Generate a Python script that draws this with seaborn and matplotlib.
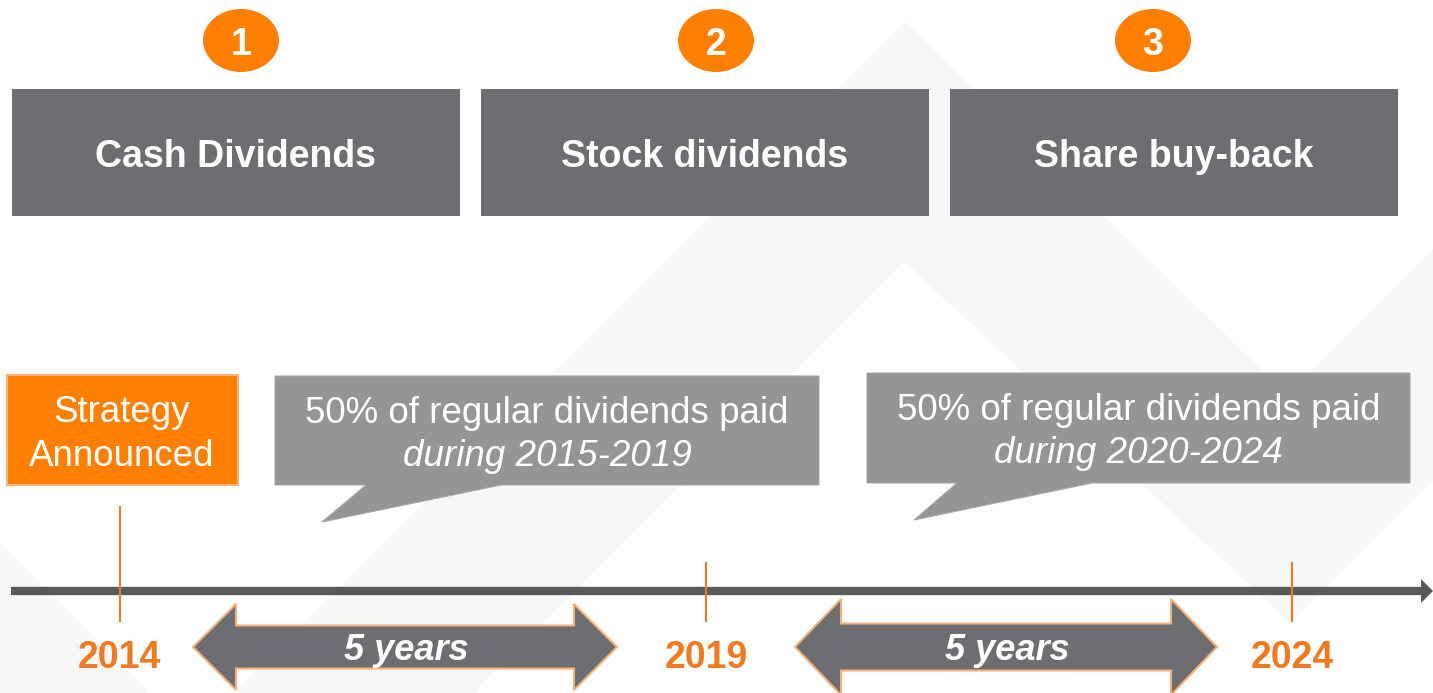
import matplotlib
matplotlib.use("Agg")
import matplotlib.pyplot as plt
from matplotlib.patches import Polygon, Rectangle, Ellipse
import pandas as pd
import seaborn as sns

# content of the diagram
phase_numbers = ["1", "2", "3"]
phases = ["Cash Dividends", "Stock dividends", "Share buy-back"]
years = [2014, 2019, 2024]
announce_label = ["Strategy", "Announced"]
callout_main = ["50% of regular dividends paid", "50% of regular dividends paid"]
callout_period = ["during 2015-2019", "during 2020-2024"]
span_label = "5 years"

ORANGE = "#ff8000"
ORANGE_TXT = "#f07a22"
DARK = "#6d6e71"
CALLOUT = "#959595"
LINE = "#595959"
BAND = "#f7f7f7"

sns.set_theme(style="white")
plt.rcParams["font.family"] = ["Liberation Sans", "DejaVu Sans"]

fig = plt.figure(figsize=(14.33, 6.93), dpi=100)
ax = fig.add_axes([0, 0, 1, 1])
ax.set_xlim(0, 1433)
ax.set_ylim(693, 0)
ax.axis("off")


def year_x(yr):
    # pixel position of a year on the timeline
    return 120 + (yr - 2014) * 117.2


# faint zigzag background
band = [(234, 693), (905, 22), (1287, 395), (1433, 249),
        (1433, 480), (1290, 623), (905, 262), (474, 693)]
ax.add_patch(Polygon(band, closed=True, fc=BAND, ec="none", zorder=0))
ax.add_patch(Polygon([(0, 543), (150, 693), (0, 693)], closed=True,
                     fc=BAND, ec="none", zorder=0))

# top row: numbered circles + grey phase boxes
box_left = [12, 481, 950]
box_w = 448
circle_x = [241, 716, 1153]
for num, name, bx, cx in zip(phase_numbers, phases, box_left, circle_x):
    ax.add_patch(Ellipse((cx, 40.5), 76, 63, fc=ORANGE, ec="none", zorder=2))
    ax.text(cx, 55, num, color="white", fontsize=27, fontweight="bold",
            ha="center", va="baseline", zorder=3)
    ax.add_patch(Rectangle((bx, 89), box_w, 127, fc=DARK, ec="none", zorder=2))
    ax.text(bx + box_w / 2, 167, name, color="white", fontsize=27,
            fontweight="bold", ha="center", va="baseline", zorder=3)

# strategy announced box
ax.add_patch(Rectangle((7, 375), 231, 110, fc=ORANGE, ec="#f9b27a", lw=1.5, zorder=2))
for txt, base in zip(announce_label, [422, 466]):
    ax.text(122, base, txt, color="white", fontsize=26.5, ha="center",
            va="baseline", zorder=3)

# speech-bubble callouts
callouts = pd.DataFrame({
    "x0": [275, 867], "x1": [819, 1410], "y0": [376, 373], "y1": [485, 483],
    "t1": [366, 957], "t2": [501, 1092], "tipx": [322, 914], "tipy": [522, 520],
})
for i, c in callouts.iterrows():
    pts = [(c.x0, c.y0), (c.x1, c.y0), (c.x1, c.y1), (c.t2, c.y1),
           (c.tipx, c.tipy), (c.t1, c.y1), (c.x0, c.y1)]
    ax.add_patch(Polygon(pts, closed=True, fc=CALLOUT, ec="#a8a8a8", lw=0.8, zorder=2))
    mid = (c.x0 + c.x1) / 2
    ax.text(mid, c.y0 + 47, callout_main[i], color="white", fontsize=26.5,
            ha="center", va="baseline", zorder=3)
    ax.text(mid, c.y0 + 90, callout_period[i], color="white", fontsize=26.5,
            style="italic", ha="center", va="baseline", zorder=3)

# timeline
ax.plot([11, 1423], [591, 591], color=LINE, lw=6, solid_capstyle="butt", zorder=3)
ax.add_patch(Polygon([(1421, 579), (1433, 591), (1421, 603)], closed=True,
                     fc=LINE, ec="none", zorder=3))

tick_top = [506, 562, 562]
for yr, top in zip(years, tick_top):
    xx = year_x(yr)
    ax.vlines(xx, top, 622, color=ORANGE_TXT, lw=1.5, zorder=4)
    ax.text(xx, 668, str(yr), color=ORANGE_TXT, fontsize=27, fontweight="bold",
            ha="center", va="baseline", zorder=4)

# double arrows spanning five years
arrows = pd.DataFrame({
    "tail": [193, 795], "tip": [617, 1217], "hlen": [43, 46],
    "hhalf": [43, 48], "shalf": [21.5, 23.5],
})
for _, a in arrows.iterrows():
    cy = 647
    l, r, h = a["tail"], a["tip"], a["hlen"]
    hh, sh = a["hhalf"], a["shalf"]
    pts = [(l, cy), (l + h, cy - hh), (l + h, cy - sh), (r - h, cy - sh),
           (r - h, cy - hh), (r, cy), (r - h, cy + hh), (r - h, cy + sh),
           (l + h, cy + sh), (l + h, cy + hh)]
    ax.add_patch(Polygon(pts, closed=True, fc=DARK, ec="#f8b07a", lw=1.5, zorder=3))
    ax.text((l + r) / 2 + 1, 660, span_label, color="white", fontsize=26,
            fontweight="bold", style="italic", ha="center", va="baseline", zorder=4)

fig.savefig("out.png", dpi=100)
